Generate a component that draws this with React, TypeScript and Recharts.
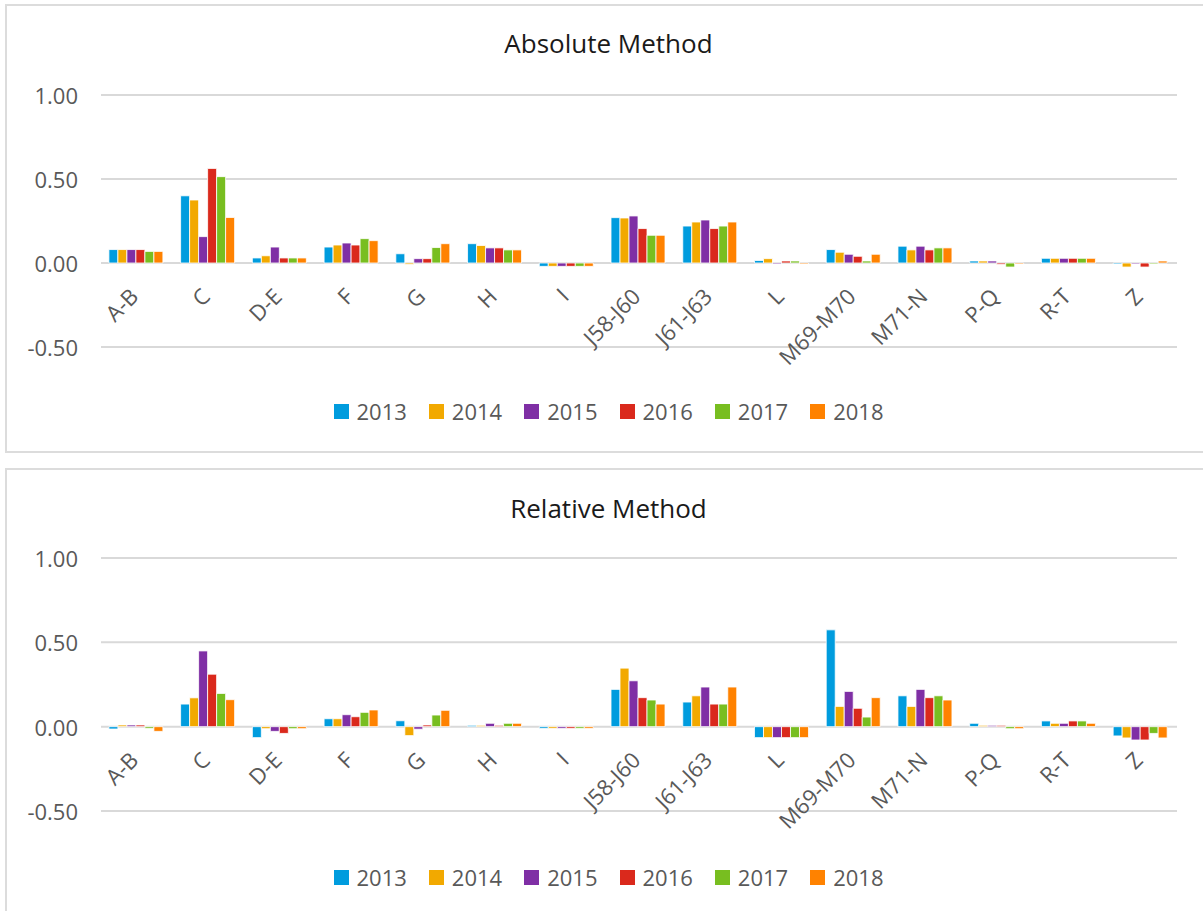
import React from 'react';
import { BarChart, Bar, XAxis, YAxis, CartesianGrid, Legend } from 'recharts';

const categories = ['A-B', 'C', 'D-E', 'F', 'G', 'H', 'I', 'J58-J60', 'J61-J63', 'L', 'M69-M70', 'M71-N', 'P-Q', 'R-T', 'Z'];
const years = ['2013', '2014', '2015', '2016', '2017', '2018'];
const colors = ['#009CDE', '#F2A900', '#7F2FA5', '#DA291C', '#78BE20', '#FF8200'];
const yTicks = [-0.5, 0, 0.5, 1];

const abs2013 = [0.08, 0.4, 0.03, 0.095, 0.055, 0.115, -0.02, 0.27, 0.22, 0.015, 0.08, 0.1, 0.012, 0.028, -0.006];
const abs2014 = [0.08, 0.375, 0.043, 0.107, -0.008, 0.104, -0.02, 0.268, 0.244, 0.026, 0.064, 0.078, 0.012, 0.028, -0.024];
const abs2015 = [0.08, 0.157, 0.095, 0.119, 0.026, 0.09, -0.02, 0.28, 0.256, -0.006, 0.052, 0.1, 0.012, 0.028, -0.006];
const abs2016 = [0.08, 0.563, 0.03, 0.107, 0.026, 0.09, -0.02, 0.205, 0.205, 0.012, 0.04, 0.078, -0.008, 0.028, -0.024];
const abs2017 = [0.069, 0.514, 0.03, 0.145, 0.092, 0.078, -0.02, 0.165, 0.22, 0.012, 0.012, 0.09, -0.024, 0.028, -0.006];
const abs2018 = [0.069, 0.271, 0.03, 0.133, 0.115, 0.078, -0.02, 0.165, 0.244, -0.006, 0.052, 0.09, -0.006, 0.028, 0.012];

const rel2013 = [-0.014, 0.134, -0.065, 0.047, 0.035, 0.008, -0.01, 0.221, 0.146, -0.065, 0.574, 0.183, 0.02, 0.034, -0.055];
const rel2014 = [0.01, 0.171, -0.012, 0.047, -0.053, 0.008, -0.01, 0.347, 0.183, -0.065, 0.12, 0.12, 0.008, 0.02, -0.067];
const rel2015 = [0.01, 0.449, -0.028, 0.071, -0.015, 0.02, -0.01, 0.272, 0.235, -0.065, 0.209, 0.221, 0.008, 0.02, -0.079];
const rel2016 = [0.01, 0.311, -0.04, 0.059, 0.01, 0.008, -0.01, 0.172, 0.134, -0.065, 0.109, 0.172, 0.008, 0.034, -0.079];
const rel2017 = [-0.01, 0.197, -0.012, 0.085, 0.069, 0.02, -0.01, 0.158, 0.134, -0.065, 0.057, 0.183, -0.012, 0.034, -0.04];
const rel2018 = [-0.028, 0.16, -0.012, 0.099, 0.097, 0.02, -0.01, 0.134, 0.235, -0.065, 0.172, 0.158, -0.012, 0.02, -0.067];

const absSeries = [abs2013, abs2014, abs2015, abs2016, abs2017, abs2018];
const relSeries = [rel2013, rel2014, rel2015, rel2016, rel2017, rel2018];

const buildRows = (series: number[][]) =>
  categories.map((cat, i) => {
    const row: Record<string, string | number> = { cat };
    years.forEach((y, k) => {
      row[y] = series[k][i];
    });
    return row;
  });

const FONT = '"Open Sans", "Noto Sans", sans-serif';
const TEXT = '#595959';
const GRID = '#d9d9d9';

const CHART_W = 1203;
const CHART_H = 447;
const Y_MIN = -0.5;
const Y_MAX = 1;
const X_AXIS_H = 30;

const LegendContent = (props: any) => {
  const payload = props.payload || [];
  return (
    <div style={{ display: 'flex', justifyContent: 'center', alignItems: 'center', fontFamily: FONT, paddingLeft: 14 }}>
      {payload.map((p: any, i: number) => (
        <div key={i} style={{ display: 'flex', alignItems: 'center', marginRight: i < payload.length - 1 ? 22 : 0 }}>
          <div style={{ width: 15, height: 15, background: p.color, marginRight: 8 }} />
          <span style={{ fontSize: 22, color: TEXT, lineHeight: '28px' }}>{p.value}</span>
        </div>
      ))}
    </div>
  );
};

function Panel({ title, series, top, marginTop, marginBottom, legendTop, titleTop }: any) {
  const rows = buildRows(series);
  const plotH = CHART_H - marginTop - marginBottom - X_AXIS_H;
  const zeroY = marginTop + (Y_MAX / (Y_MAX - Y_MIN)) * plotH;

  const renderXTick = (p: any) => {
    const x = p.x + 3;
    const y = zeroY + 35;
    return (
      <text
        key={`xt-${p.index}`}
        x={x}
        y={y}
        textAnchor="end"
        transform={`rotate(-45 ${x} ${y})`}
        fill={TEXT}
        fontSize={22}
        fontFamily={FONT}
      >
        {p.payload.value}
      </text>
    );
  };

  const renderYTick = (p: any) => (
    <text
      key={`yt-${p.index}`}
      x={78}
      y={p.y}
      textAnchor="end"
      dominantBaseline="central"
      fill={TEXT}
      fontSize={22}
      fontFamily={FONT}
    >
      {Number(p.payload.value).toFixed(2)}
    </text>
  );

  return (
    <div style={{ position: 'absolute', left: 0, top, width: CHART_W, height: CHART_H }}>
      <div
        style={{
          position: 'absolute',
          left: 0,
          width: CHART_W,
          top: titleTop,
          textAlign: 'center',
          fontFamily: FONT,
          fontSize: 26,
          color: '#1a1a1a',
          lineHeight: '32px',
          paddingLeft: 14,
          boxSizing: 'border-box',
        }}
      >
        {title}
      </div>
      <BarChart
        width={CHART_W}
        height={CHART_H}
        data={rows}
        margin={{ top: marginTop, right: 26, bottom: marginBottom, left: 41 }}
        barCategoryGap="11%"
        barGap={0}
        style={{ fontFamily: FONT }}
      >
        <CartesianGrid vertical={false} stroke={GRID} strokeWidth={2} />
        <XAxis dataKey="cat" axisLine={false} tickLine={false} height={X_AXIS_H} tick={renderXTick} interval={0} />
        <YAxis
          domain={[Y_MIN, Y_MAX]}
          ticks={yTicks}
          axisLine={false}
          tickLine={false}
          width={60}
          tick={renderYTick}
          interval={0}
        />
        <Legend
          verticalAlign="middle"
          align="center"
          layout="horizontal"
          wrapperStyle={{ top: legendTop, left: 0, width: CHART_W, height: 30 }}
          content={<LegendContent />}
        />
        {years.map((y, k) => (
          <Bar key={y} dataKey={y} fill={colors[k]} stroke="#ffffff" strokeWidth={0.8} isAnimationActive={false} />
        ))}
      </BarChart>
    </div>
  );
}

export default function App() {
  return (
    <div
      style={{
        position: 'fixed',
        left: 0,
        top: 0,
        width: 1203,
        height: 911,
        overflow: 'hidden',
        background: '#ffffff',
        fontFamily: FONT,
      }}
    >
      <div
        style={{
          position: 'absolute',
          left: 5,
          top: 4,
          width: 1220,
          height: 449,
          border: '2px solid #dcdcdc',
          boxSizing: 'border-box',
        }}
      />
      <div
        style={{
          position: 'absolute',
          left: 5,
          top: 468,
          width: 1220,
          height: 500,
          border: '2px solid #dcdcdc',
          boxSizing: 'border-box',
        }}
      />
      <Panel title="Absolute Method" series={absSeries} top={0} marginTop={95} marginBottom={70} legendTop={397} titleTop={27} />
      <Panel title="Relative Method" series={relSeries} top={464} marginTop={94} marginBottom={70} legendTop={399} titleTop={28} />
    </div>
  );
}
